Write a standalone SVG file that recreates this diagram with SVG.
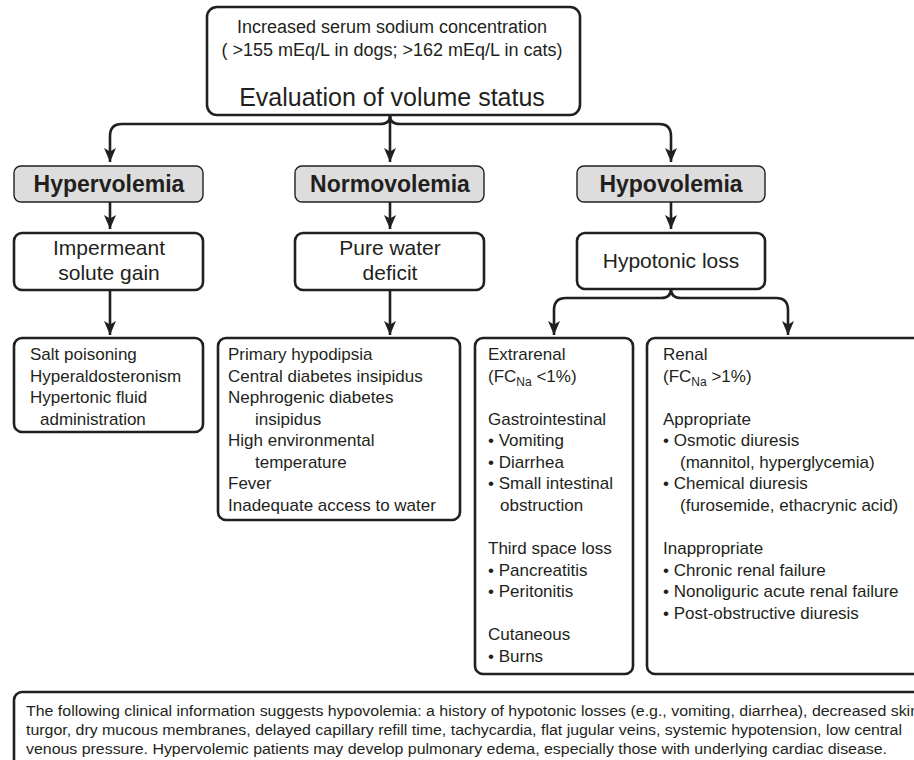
<svg xmlns="http://www.w3.org/2000/svg" width="914" height="760" viewBox="0 0 914 760">
<defs>
<marker id="ah" markerUnits="userSpaceOnUse" markerWidth="14" markerHeight="12" refX="14" refY="6" orient="auto" viewBox="0 0 14 12">
<path d="M0,0 L14,6 L0,12 L3.5,6 Z" fill="#231f20"/>
</marker>
</defs>
<style>
.box{fill:#fff;stroke:#231f20;stroke-width:2.6}
.lab{fill:#dddddd;stroke:#231f20;stroke-width:1.4}
.t{font-family:"Liberation Sans",Arial,sans-serif;fill:#231f20}
.l17{font-size:17px}
.c21{font-size:21px;text-anchor:middle}
.b23{font-size:23px;font-weight:bold;text-anchor:middle}
.cn{fill:none;stroke:#231f20;stroke-width:2.6}
.s13{font-size:15.5px}
</style>
<rect width="914" height="760" fill="#fff"/>

<g id="connectors">
<path class="cn" d="M390,116 Q390,124 380,124 L122,124 Q110,124 110,136 L110,162" marker-end="url(#ah)"/>
<path class="cn" d="M390,116 Q390,124 400,124 L659,124 Q671,124 671,136 L671,162" marker-end="url(#ah)"/>
<path class="cn" d="M390,116 L390,162" marker-end="url(#ah)"/>
<path class="cn" d="M110,202 L110,229" marker-end="url(#ah)"/>
<path class="cn" d="M390,202 L390,229" marker-end="url(#ah)"/>
<path class="cn" d="M671,202 L671,229" marker-end="url(#ah)"/>
<path class="cn" d="M110,290 L110,335" marker-end="url(#ah)"/>
<path class="cn" d="M390,290 L390,335" marker-end="url(#ah)"/>
<path class="cn" d="M671,289 Q671,298 661,298 L566,298 Q554,298 554,310 L554,335" marker-end="url(#ah)"/>
<path class="cn" d="M671,289 Q671,298 681,298 L776,298 Q788,298 788,310 L788,335" marker-end="url(#ah)"/>
</g>

<g id="top">
<rect class="box" x="207" y="7" width="373" height="108" rx="10"/>
<text class="t" x="392" y="33" font-size="18" text-anchor="middle">Increased serum sodium concentration</text>
<text class="t" x="392" y="56" font-size="18" text-anchor="middle">( &gt;155 mEq/L in dogs; &gt;162 mEq/L in cats)</text>
<text class="t" x="392" y="106" font-size="25" text-anchor="middle">Evaluation of volume status</text>
</g>

<g id="hypervolemia">
<rect class="lab" x="14" y="166" width="189" height="36" rx="7"/>
<text class="t b23" x="109" y="192">Hypervolemia</text>
</g>
<g id="normovolemia">
<rect class="lab" x="295" y="166" width="189" height="36" rx="7"/>
<text class="t b23" x="390" y="192">Normovolemia</text>
</g>
<g id="hypovolemia">
<rect class="lab" x="577" y="166" width="188" height="36" rx="7"/>
<text class="t b23" x="671" y="192">Hypovolemia</text>
</g>

<g id="impermeant">
<rect class="box" x="14" y="233" width="189" height="57" rx="8"/>
<text class="t c21" x="109" y="255">Impermeant</text>
<text class="t c21" x="109" y="280">solute gain</text>
</g>
<g id="purewater">
<rect class="box" x="295" y="233" width="189" height="57" rx="8"/>
<text class="t c21" x="390" y="255">Pure water</text>
<text class="t c21" x="390" y="280">deficit</text>
</g>
<g id="hypotonic">
<rect class="box" x="577" y="233" width="188" height="56" rx="8"/>
<text class="t c21" x="671" y="268">Hypotonic loss</text>
</g>

<g id="hyper-causes">
<rect class="box" x="14" y="338" width="189" height="94" rx="8"/>
<text class="t l17" x="30" y="360">Salt poisoning</text>
<text class="t l17" x="30" y="381.5">Hyperaldosteronism</text>
<text class="t l17" x="30" y="403">Hypertonic fluid</text>
<text class="t l17" x="40" y="424.5">administration</text>
</g>

<g id="normo-causes">
<rect class="box" x="218" y="338" width="242" height="182" rx="8"/>
<text class="t l17" x="228" y="360">Primary hypodipsia</text>
<text class="t l17" x="228" y="381.5">Central diabetes insipidus</text>
<text class="t l17" x="228" y="403">Nephrogenic diabetes</text>
<text class="t l17" x="255" y="424.5">insipidus</text>
<text class="t l17" x="228" y="446">High environmental</text>
<text class="t l17" x="255" y="467.5">temperature</text>
<text class="t l17" x="228" y="489">Fever</text>
<text class="t l17" x="228" y="510.5">Inadequate access to water</text>
</g>

<g id="extrarenal">
<rect class="box" x="475" y="338" width="158" height="336" rx="8"/>
<text class="t l17" x="488" y="360">Extrarenal</text>
<text class="t l17" x="488" y="381.5">(FC<tspan font-size="12" dy="4">Na</tspan><tspan dy="-4"> &lt;1%)</tspan></text>
<text class="t l17" x="488" y="424.5">Gastrointestinal</text>
<text class="t l17" x="488" y="446">• Vomiting</text>
<text class="t l17" x="488" y="467.5">• Diarrhea</text>
<text class="t l17" x="488" y="489">• Small intestinal</text>
<text class="t l17" x="500" y="510.5">obstruction</text>
<text class="t l17" x="488" y="554">Third space loss</text>
<text class="t l17" x="488" y="575.5">• Pancreatitis</text>
<text class="t l17" x="488" y="597">• Peritonitis</text>
<text class="t l17" x="488" y="640">Cutaneous</text>
<text class="t l17" x="488" y="661.5">• Burns</text>
</g>

<g id="renal">
<rect class="box" x="647" y="338" width="290" height="336" rx="8"/>
<text class="t l17" x="663" y="360">Renal</text>
<text class="t l17" x="663" y="381.5">(FC<tspan font-size="12" dy="4">Na</tspan><tspan dy="-4"> &gt;1%)</tspan></text>
<text class="t l17" x="663" y="424.5">Appropriate</text>
<text class="t l17" x="663" y="446">• Osmotic diuresis</text>
<text class="t l17" x="680" y="467.5">(mannitol, hyperglycemia)</text>
<text class="t l17" x="663" y="489">• Chemical diuresis</text>
<text class="t l17" x="680" y="510.5">(furosemide, ethacrynic acid)</text>
<text class="t l17" x="663" y="554">Inappropriate</text>
<text class="t l17" x="663" y="575.5">• Chronic renal failure</text>
<text class="t l17" x="663" y="597">• Nonoliguric acute renal failure</text>
<text class="t l17" x="663" y="618.5">• Post-obstructive diuresis</text>
</g>

<g id="note">
<rect class="box" x="14" y="692" width="930" height="90" rx="8"/>
<text class="t s13" x="26" y="716" textLength="893" lengthAdjust="spacingAndGlyphs">The following clinical information suggests hypovolemia: a history of hypotonic losses (e.g., vomiting, diarrhea), decreased skin</text>
<text class="t s13" x="26" y="735" textLength="876" lengthAdjust="spacingAndGlyphs">turgor, dry mucous membranes, delayed capillary refill time, tachycardia, flat jugular veins, systemic hypotension, low central</text>
<text class="t s13" x="26" y="754" textLength="861" lengthAdjust="spacingAndGlyphs">venous pressure. Hypervolemic patients may develop pulmonary edema, especially those with underlying cardiac disease.</text>
</g>
</svg>
